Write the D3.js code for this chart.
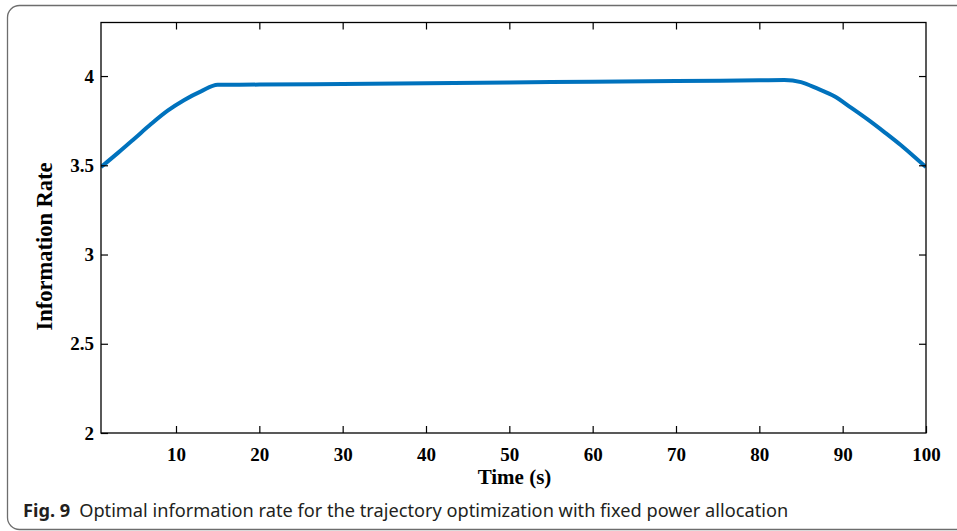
<!DOCTYPE html>
<html>
<head>
<meta charset="utf-8">
<script src="https://cdn.jsdelivr.net/npm/d3@7"></script>
<style>
  body { margin: 0; background: #fff; }
  svg { display: block; }
</style>
</head>
<body>
<div id="chart"></div>
<script>
// data
var timeS = [1, 3, 5, 7, 9, 11, 13, 15, 20, 30, 40, 50, 60, 70, 80, 83, 85, 87, 89, 91, 93, 95, 97, 99, 100];
var infoRate = [3.490, 3.568, 3.649, 3.731, 3.806, 3.866, 3.914, 3.951, 3.952, 3.956, 3.960, 3.964, 3.968, 3.972, 3.976, 3.978,
                3.966, 3.929, 3.887, 3.823, 3.757, 3.686, 3.612, 3.531, 3.490];
var xTicks = [10, 20, 30, 40, 50, 60, 70, 80, 90, 100];
var yTicks = [2, 2.5, 3, 3.5, 4];
var caption = "Optimal information rate for the trajectory optimization with fixed power allocation";

var W = 957, H = 531;
var margin = {top: 22.5, right: 31, bottom: 98, left: 101};
var width = W - margin.left - margin.right,
    height = H - margin.top - margin.bottom;

var svg = d3.select("#chart")
  .append("svg")
    .attr("width", W)
    .attr("height", H);

// frame around the figure
svg.append("rect")
  .attr("x", 7.5).attr("y", 5.5)
  .attr("width", 1000).attr("height", 524)
  .attr("rx", 12)
  .attr("fill", "none")
  .attr("stroke", "#6d6d6d")
  .attr("stroke-width", 1.3);

var g = svg.append("g")
  .attr("transform", "translate(" + margin.left + "," + margin.top + ")");

var x = d3.scaleLinear().domain([1, 100]).range([0, width]);
var y = d3.scaleLinear().domain([2, 4.3]).range([height, 0]);

g.append("clipPath").attr("id", "clip")
  .append("rect").attr("width", width).attr("height", height);

var line = d3.line()
  .x(function(d, i) { return x(timeS[i]); })
  .y(function(d) { return y(d); })
  .curve(d3.curveMonotoneX);

g.append("path")
  .datum(infoRate)
  .attr("clip-path", "url(#clip)")
  .attr("fill", "none")
  .attr("stroke", "#0072bd")
  .attr("stroke-width", 4)
  .attr("d", line);

// axes, ticks pointing inward
var tickFont = "'Liberation Serif', 'Times New Roman', serif";
function styleAxis(sel) {
  sel.select(".domain").remove();
  sel.selectAll("line").attr("stroke", "#000").attr("stroke-width", 1.2);
  sel.selectAll("text")
    .attr("font-family", tickFont)
    .attr("font-weight", "bold")
    .attr("font-size", "19px")
    .attr("fill", "#000");
}

g.append("g")
  .attr("transform", "translate(0," + height + ")")
  .call(d3.axisBottom(x).tickValues(xTicks).tickSizeInner(-7).tickSizeOuter(0).tickPadding(15))
  .call(styleAxis);

g.append("g")
  .call(d3.axisTop(x).tickValues(xTicks.slice(0, -1)).tickSizeInner(-7).tickSizeOuter(0).tickFormat(""))
  .call(styleAxis);

g.append("g")
  .call(d3.axisLeft(y).tickValues(yTicks).tickSizeInner(-7).tickSizeOuter(0).tickPadding(7)
    .tickFormat(d3.format("~g")))
  .call(styleAxis);

g.append("g")
  .attr("transform", "translate(" + width + ",0)")
  .call(d3.axisRight(y).tickValues(yTicks.slice(1)).tickSizeInner(-7).tickSizeOuter(0).tickFormat(""))
  .call(styleAxis);

// box
g.append("rect")
  .attr("width", width).attr("height", height)
  .attr("fill", "none")
  .attr("stroke", "#000")
  .attr("stroke-width", 1.3);

// axis labels
g.append("text")
  .attr("x", width / 2 + 1).attr("y", height + 50.5)
  .attr("text-anchor", "middle")
  .attr("font-family", tickFont)
  .attr("font-weight", "bold")
  .attr("font-size", "21px")
  .text("Time (s)");

g.append("text")
  .attr("transform", "translate(" + (-49) + "," + 224 + ") rotate(-90)")
  .attr("text-anchor", "middle")
  .attr("font-family", tickFont)
  .attr("font-weight", "bold")
  .attr("font-size", "22.5px")
  .text("Information Rate");

// caption
var cap = svg.append("text")
  .attr("x", 23).attr("y", 517)
  .attr("font-family", "'Noto Sans', 'Open Sans', sans-serif")
  .attr("font-size", "18.2px")
  .attr("fill", "#231f20");
cap.append("tspan").attr("font-weight", "bold").text("Fig. 9");
cap.append("tspan").attr("dx", 9).text(caption);
</script>
</body>
</html>
